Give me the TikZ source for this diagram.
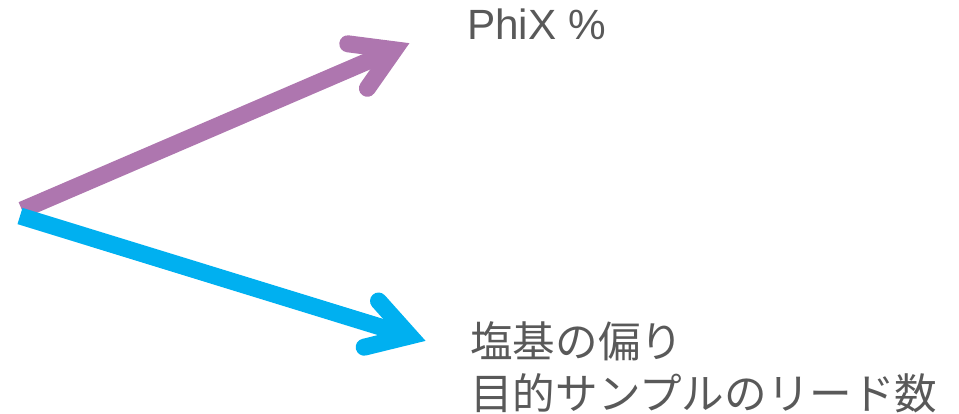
\documentclass[tikz,border=0pt]{standalone}
\usepackage{fontspec}
\setmainfont{Liberation Sans}
\newfontfamily\cjk{Noto Sans CJK JP}
\definecolor{arrpurple}{HTML}{AE76AF}
\definecolor{arrblue}{HTML}{00B0F0}
\definecolor{txtgray}{HTML}{595959}
\begin{document}
\begin{tikzpicture}[x=1pt,y=-1pt,
  shaft/.style={line width=17pt, line cap=butt},
  barbs/.style={line width=17pt, line cap=round, line join=miter, miter limit=10},
  lbl/.style={anchor=base west, inner sep=0pt, text=txtgray}]
\useasboundingbox (0,0) rectangle (959,414);
% text
\node[lbl, font=\fontsize{42.3}{50}\selectfont] (phix) at (467,40) {PhiX \%};
\node[lbl, align=left, font=\cjk\fontsize{42.6}{51.5}\selectfont] (jp) at (470,409) {塩基の偏り\\目的サンプルのリード数};
% purple arrow
\coordinate (o1) at (22,210);
\coordinate (p1) at (394.4,49.8);
\coordinate (p1a) at (347.8,43.8);
\coordinate (p1b) at (367.4,88.3);
\draw[arrpurple, shaft] (o1) -- (p1);
\draw[arrpurple, barbs] (p1a) -- (p1) -- (p1b);
% blue arrow
\coordinate (o2) at (20,216);
\coordinate (p2) at (409.8,336);
\coordinate (p2a) at (378.5,301);
\coordinate (p2b) at (364.2,347.2);
\draw[arrblue, shaft] (o2) -- (p2);
\draw[arrblue, barbs] (p2a) -- (p2) -- (p2b);
\end{tikzpicture}
\end{document}
